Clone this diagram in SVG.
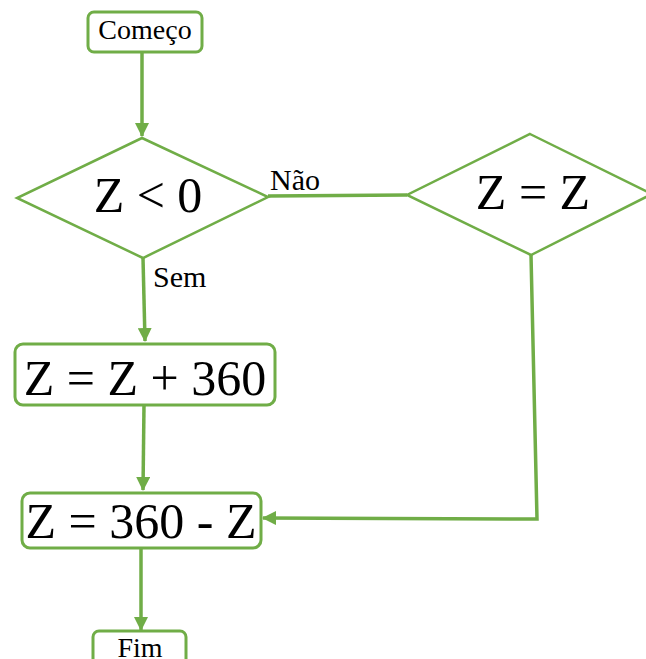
<svg xmlns="http://www.w3.org/2000/svg" width="646" height="659" viewBox="0 0 646 659">
  <style>
    .box { fill: #ffffff; stroke: #70AD47; stroke-width: 3; }
    .dia { fill: #ffffff; stroke: #70AD47; stroke-width: 2.5; }
    .link { fill: none; stroke: #70AD47; stroke-width: 3.5; }
    .t { font-family: "Liberation Serif", "Times New Roman", serif; fill: #000000; text-anchor: middle; }
    .big { font-size: 50px; }
    .small { font-size: 28px; }
    .lbl { font-family: "Liberation Serif", "Times New Roman", serif; fill: #000000; font-size: 30px; }
  </style>
  <defs>
    <marker id="arrow" markerUnits="userSpaceOnUse" markerWidth="14" markerHeight="14" refX="13" refY="7" orient="auto">
      <path d="M0,0 L14,7 L0,14 Z" fill="#70AD47"/>
    </marker>
  </defs>
  <rect width="646" height="659" fill="#ffffff"/>

  <!-- connectors -->
  <g id="connectors">
    <path class="link" d="M142,52 L142,136" marker-end="url(#arrow)"/>
    <path class="link" d="M268,196 L407,195"/>
    <path class="link" d="M143,258 L145,341" marker-end="url(#arrow)"/>
    <path class="link" d="M144,405 L143,490" marker-end="url(#arrow)"/>
    <path class="link" d="M531,255 L537,519 L263,518" marker-end="url(#arrow)"/>
    <path class="link" d="M141,548 L141,630" marker-end="url(#arrow)"/>
    <text class="lbl" x="270" y="190">Não</text>
    <text class="lbl" x="153" y="287">Sem</text>
  </g>

  <g id="start">
    <rect class="box" x="88" y="12" width="114" height="40" rx="6"/>
    <text class="t small" x="145" y="39">Começo</text>
  </g>

  <g id="check-negative">
    <polygon class="dia" points="142,138 268,197 143,258 17,198"/>
    <text class="t big" x="148" y="212">Z &lt; 0</text>
  </g>

  <g id="keep-value">
    <polygon class="dia" points="530,134 652,194 531,255 407,195"/>
    <text class="t big" x="533" y="209">Z = Z</text>
  </g>

  <g id="add-360">
    <rect class="box" x="15" y="344" width="260" height="61" rx="8"/>
    <text class="t big" x="145" y="395">Z = Z + 360</text>
  </g>

  <g id="subtract">
    <rect class="box" x="22" y="493" width="239" height="55" rx="8"/>
    <text class="t big" x="141" y="538">Z = 360 - Z</text>
  </g>

  <g id="end">
    <rect class="box" x="93" y="631" width="93" height="40" rx="6"/>
    <text class="t small" x="140" y="657">Fim</text>
  </g>
</svg>
